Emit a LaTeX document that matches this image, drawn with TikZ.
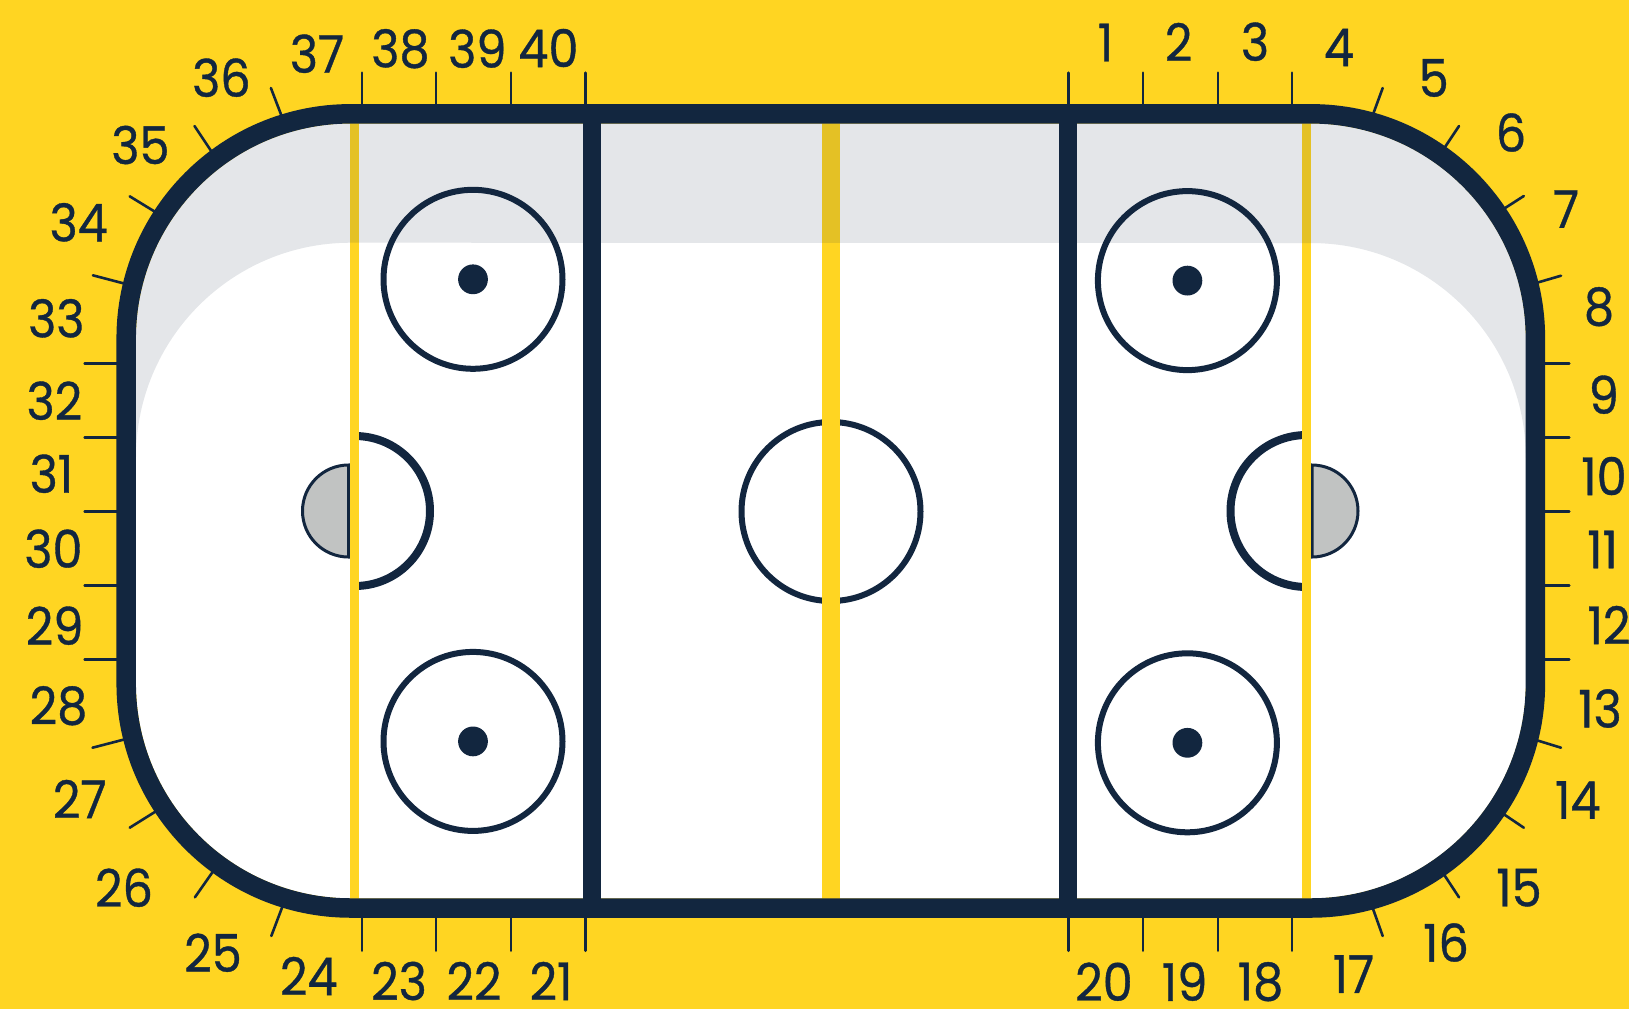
\documentclass[tikz,border=0pt]{standalone}
\usepackage{fontspec}
\usepackage{xcolor}
\setmainfont[FakeStretch=0.92, FakeBold=0.7]{Poppins}
\definecolor{rinkyellow}{RGB}{255, 213, 34}
\definecolor{rinknavy}{RGB}{18, 38, 63}
\definecolor{creasegray}{RGB}{193, 195, 194}

\begin{document}
\begin{tikzpicture}[
    x=0.5pt, y=-0.5pt,
    boards/.style={draw=rinknavy, line width=9.75pt, rounded corners=112.25pt},
    blueline/.style={fill=rinknavy},
    goalline/.style={fill=rinkyellow},
    ring/.style={draw=rinknavy, line width=3pt},
    dot/.style={fill=rinknavy},
    halfring/.style={draw=rinknavy, line width=4pt},
    crease/.style={draw=rinknavy, line width=1.5pt, fill=creasegray},
    tickmark/.style={draw=rinknavy, line width=1.3pt, line cap=round},
    seat/.style={font=\fontsize{26}{26}\selectfont, text=rinknavy, inner sep=0pt, outer sep=0pt}
]
\useasboundingbox (0,0) rectangle (1629,1009);
\clip (0,0) rectangle (1629,1009);
\fill[rinkyellow] (0,0) rectangle (1629,1009);

% Ticks round the boards
\foreach \px in {361.8, 436, 510.9, 585.6, 1068.3, 1143, 1217.8, 1292.1} {
    \draw[tickmark] (\px,72.7) -- (\px,106);
    \draw[tickmark] (\px,916) -- (\px,950.7);
}
\foreach \py in {363.7, 437.7, 511.7, 585.7, 659.7} {
    \draw[tickmark] (84.6,\py) -- (118,\py);
    \draw[tickmark] (1543,\py) -- (1569.3,\py);
}
\foreach \xa/\ya/\xb/\yb in {
    270.9/88/282/117, 194.5/126/212.5/153, 129.7/196.3/157/213, 92.9/275.3/126/284,
    1382.7/88/1372.8/115, 1459/126/1443/150, 1523.8/196/1502/210, 1561/275.7/1536/283,
    92.5/747.7/126/739, 129.7/827.7/158/810, 194.9/897.3/214/870, 271.3/936/283/905,
    1561/747.7/1536/740, 1523.8/827.7/1502/813, 1459/897.3/1443/873, 1382.7/936/1372/906} {
    \draw[tickmark] (\xa,\ya) -- (\xb,\yb);
}

% Ice
\fill[white, rounded corners=107.5pt] (136,123.5) rectangle (1525.8,898.3);

% Blue lines
\fill[blueline] (582.8,123) rectangle (601,899);
\fill[blueline] (1058.8,123) rectangle (1077,899);

% Faceoff circles
\draw[ring] (831,511.5) circle[radius=89.5];
\foreach \cx/\cy in {473/279.3, 473/741.4, 1187.4/280.6, 1187.4/742.8} {
    \draw[ring] (\cx,\cy) circle[radius=89.5];
    \fill[dot] (\cx,\cy) circle[radius=14.9];
}

% Goal areas
\draw[halfring] (355,436) arc[start angle=-90, end angle=90, radius=75];
\draw[halfring] (1306.5,435) arc[start angle=270, end angle=90, radius=76];
\draw[crease] (348.5,465) arc[start angle=270, end angle=90, radius=46] -- cycle;
\draw[crease] (1312,465) arc[start angle=-90, end angle=90, radius=46] -- cycle;

% Yellow lines
\fill[goalline] (350,123) rectangle (359,899);
\fill[goalline] (822,123) rectangle (840,899);
\fill[goalline] (1302,123) rectangle (1310.7,899);

% Shade along the top
\fill[rinknavy, fill opacity=0.115]
    (350.5,123.5) -- (1310.8,123.5)
    arc[start angle=-90, end angle=0, radius=215] -- (1525.8,458)
    arc[start angle=0, end angle=-90, radius=215] -- (350.5,242.7)
    arc[start angle=-90, end angle=-180, radius=214.5] -- (136,338)
    arc[start angle=180, end angle=270, radius=214.5] -- cycle;

% Boards
\draw[boards] (126.2,113.8) rectangle (1535.4,908);

% Numbers
\foreach \num/\lx/\ly in {
    1/1105.5/42.5, 2/1178.6/42, 3/1255/41.7, 4/1339/47.5, 5/1433.7/78,
    6/1511/132.5, 7/1566/209, 8/1599/306.7, 9/1603.7/394.7, 10/1604/476,
    11/1602.5/549.5, 12/1609/625, 13/1600/708.5, 14/1577.8/800, 15/1519/887.7,
    16/1446/942.5, 17/1353.4/974, 18/1260.5/981.7, 19/1184.6/981.7, 20/1104/981.7,
    21/551/981, 22/474/981, 23/399/981, 24/308.8/976, 25/213/952.7,
    26/124/887.7, 27/79.7/799, 28/58.5/705.7, 29/54.6/625.7, 30/53.4/548.7,
    31/51.4/473.7, 32/54.4/400.7, 33/56.3/318.3, 34/78.7/222.3, 35/140.4/145,
    36/221.4/77.7, 37/317/53.7, 38/400.4/48.7, 39/477.3/48.7, 40/548.4/48} {
    \node[seat] (seat\num) at (\lx,\ly) {\num};
}
\end{tikzpicture}
\end{document}
